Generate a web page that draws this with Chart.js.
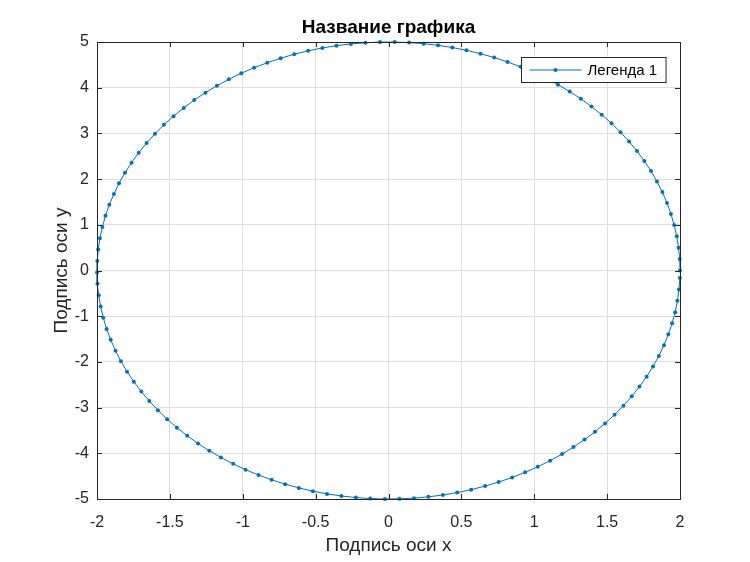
<!DOCTYPE html>
<html lang="ru">
<head>
  <meta charset="UTF-8" />
  <title>Название графика</title>
  <style>
    body { margin:0; background:#fff; }
    #wrap { width:750px; height:562px; }
  </style>
  <script src="https://cdn.jsdelivr.net/npm/chart.js"></script>
</head>
<body>
  <div id="wrap"><canvas id="plot" width="750" height="562"></canvas></div>

  <script>
    const xTicks = [-2, -1.5, -1, -0.5, 0, 0.5, 1, 1.5, 2];
    const yTicks = [-5, -4, -3, -2, -1, 0, 1, 2, 3, 4, 5];

    const xs = [
      2.000, 1.998, 1.990, 1.978, 1.960, 1.938, 1.911, 1.879, 1.842, 1.801,
      1.755, 1.705, 1.651, 1.592, 1.530, 1.463, 1.393, 1.320, 1.243, 1.163,
      1.081, 0.995, 0.907, 0.817, 0.725, 0.631, 0.535, 0.438, 0.340, 0.241,
      0.141, 0.042, -0.058, -0.158, -0.258, -0.357, -0.454, -0.551, -0.647, -0.740,
      -0.832, -0.922, -1.010, -1.095, -1.177, -1.256, -1.333, -1.405, -1.475, -1.541,
      -1.602, -1.660, -1.714, -1.763, -1.808, -1.849, -1.884, -1.916, -1.942, -1.963,
      -1.980, -1.992, -1.998, -2.000, -1.997, -1.988, -1.975, -1.957, -1.934, -1.906,
      -1.873, -1.836, -1.794, -1.747, -1.696, -1.641, -1.582, -1.519, -1.452, -1.381,
      -1.307, -1.230, -1.150, -1.066, -0.981, -0.892, -0.802, -0.709, -0.615, -0.519,
      -0.422, -0.323, -0.224, -0.125, -0.025, 0.075, 0.175, 0.274, 0.373, 0.471,
      0.567, 0.663, 0.756, 0.848, 0.937, 1.024, 1.109, 1.191, 1.269, 1.345,
      1.417, 1.486, 1.551, 1.612, 1.669, 1.722, 1.771, 1.815, 1.855, 1.890,
      1.920, 1.946, 1.967, 1.982, 1.993, 1.999
    ];
    const ys = [
      0.000, 0.250, 0.499, 0.747, 0.993, 1.237, 1.478, 1.715, 1.947, 2.175,
      2.397, 2.614, 2.823, 3.026, 3.221, 3.408, 3.587, 3.756, 3.917, 4.067,
      4.207, 4.337, 4.456, 4.564, 4.660, 4.745, 4.818, 4.879, 4.927, 4.964,
      4.988, 4.999, 4.998, 4.984, 4.958, 4.920, 4.869, 4.806, 4.732, 4.645,
      4.546, 4.437, 4.316, 4.185, 4.042, 3.890, 3.729, 3.557, 3.377, 3.189,
      2.992, 2.788, 2.578, 2.360, 2.137, 1.908, 1.675, 1.437, 1.196, 0.952,
      0.706, 0.457, 0.208, -0.042, -0.292, -0.541, -0.789, -1.035, -1.278, -1.518,
      -1.754, -1.986, -2.213, -2.434, -2.649, -2.858, -3.059, -3.253, -3.439, -3.616,
      -3.784, -3.943, -4.091, -4.230, -4.358, -4.475, -4.581, -4.675, -4.758, -4.829,
      -4.888, -4.934, -4.969, -4.990, -5.000, -4.997, -4.981, -4.953, -4.912, -4.860,
      -4.795, -4.718, -4.629, -4.529, -4.417, -4.295, -4.161, -4.018, -3.864, -3.700,
      -3.528, -3.346, -3.156, -2.959, -2.753, -2.541, -2.323, -2.099, -1.869, -1.635,
      -1.397, -1.155, -0.911, -0.664, -0.416, -0.166
    ];

    const LINE = '#0072BD';
    const AXIS = '#262626';
    Chart.defaults.font.family = '"Liberation Sans", Arial, Helvetica, sans-serif';
    Chart.defaults.color = AXIS;

    // box around the axes, inward tick marks and the legend inside the plot, MATLAB style
    const matlabAxes = {
      id: 'matlabAxes',
      afterDatasetsDraw(chart) {
        const { ctx, chartArea: a, scales: { x, y } } = chart;
        const tl = 5;
        ctx.save();
        ctx.strokeStyle = AXIS;
        ctx.lineWidth = 1;
        ctx.beginPath();
        x.ticks.forEach(t => {
          const px = Math.round(x.getPixelForValue(t.value)) + 0.5;
          ctx.moveTo(px, a.bottom); ctx.lineTo(px, a.bottom - tl);
          ctx.moveTo(px, a.top); ctx.lineTo(px, a.top + tl);
        });
        y.ticks.forEach(t => {
          const py = Math.round(y.getPixelForValue(t.value)) + 0.5;
          ctx.moveTo(a.left, py); ctx.lineTo(a.left + tl, py);
          ctx.moveTo(a.right, py); ctx.lineTo(a.right - tl, py);
        });
        ctx.stroke();
        ctx.strokeRect(Math.round(a.left) + 0.5, Math.round(a.top) + 0.5,
                       Math.round(a.right - a.left), Math.round(a.bottom - a.top));

        // legend
        const ds = chart.data.datasets[0];
        ctx.font = '15px "Liberation Sans", Arial, sans-serif';
        const tw = ctx.measureText(ds.label).width;
        const w = 8 + 52 + 6 + tw + 9, h = 25;
        const lx = Math.round(a.right - 14 - w) + 0.5, ly = Math.round(a.top + 15) + 0.5;
        ctx.fillStyle = '#fff';
        ctx.fillRect(lx, ly, w, h);
        ctx.strokeStyle = AXIS;
        ctx.strokeRect(lx, ly, w, h);
        const my = ly + h / 2;
        ctx.strokeStyle = LINE;
        ctx.beginPath();
        ctx.moveTo(lx + 8, my); ctx.lineTo(lx + 60, my);
        ctx.stroke();
        ctx.fillStyle = LINE;
        ctx.beginPath();
        ctx.arc(lx + 34, my, 2, 0, Math.PI * 2);
        ctx.fill();
        ctx.fillStyle = '#000';
        ctx.textBaseline = 'middle';
        ctx.fillText(ds.label, lx + 66, my + 1);
        ctx.restore();
      }
    };

    const points = xs.map((v, i) => ({ x: v, y: ys[i] }));

    new Chart(document.getElementById('plot'), {
      type: 'scatter',
      data: {
        datasets: [{
          label: 'Легенда 1',
          data: points,
          showLine: true,
          borderColor: LINE,
          borderWidth: 1,
          backgroundColor: LINE,
          pointRadius: 2,
          pointBorderWidth: 0,
          clip: false
        }]
      },
      options: {
        responsive: false,
        animation: false,
        layout: { padding: { left: 0, right: 70, top: 0, bottom: 0 } },
        plugins: {
          legend: { display: false },
          tooltip: { enabled: false },
          title: { display: false }
        },
        scales: {
          x: {
            type: 'linear',
            min: -2, max: 2,
            afterBuildTicks: s => { s.ticks = xTicks.map(v => ({ value: v })); },
            afterFit: s => { s.height = 63; },
            grid: { color: '#dfdfdf', drawTicks: false },
            border: { display: false },
            ticks: { padding: 14, font: { size: 16 }, color: AXIS, callback: v => String(v) },
            title: { display: true, text: 'Подпись оси x', color: AXIS, font: { size: 19 }, padding: { top: 0, bottom: 5 } }
          },
          // top axis only carries the chart title, so it is centred on the plot area
          top: {
            type: 'linear',
            position: 'top',
            afterFit: s => { s.height = 42; },
            grid: { display: false },
            border: { display: false },
            ticks: { display: false },
            title: { display: true, text: 'Название графика', color: '#000', font: { size: 19, weight: 'bold' }, padding: { top: 16, bottom: 0 } }
          },
          y: {
            type: 'linear',
            min: -5, max: 5,
            afterBuildTicks: s => { s.ticks = yTicks.map(v => ({ value: v })); },
            afterFit: s => { s.width = 97; },
            grid: { color: '#dfdfdf', drawTicks: false },
            border: { display: false },
            ticks: { padding: 8, font: { size: 16 }, color: AXIS, callback: v => String(v) },
            title: { display: true, text: 'Подпись оси y', color: AXIS, font: { size: 19 }, padding: { top: 50, bottom: 0 } }
          }
        }
      },
      plugins: [matlabAxes]
    });
  </script>
</body>
</html>
